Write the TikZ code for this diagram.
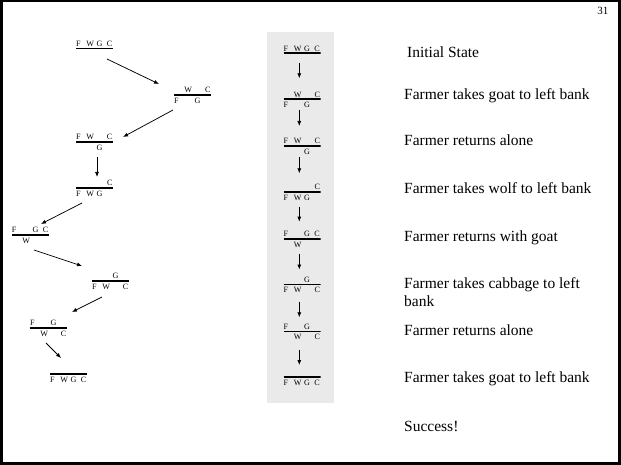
\documentclass[tikz,border=0pt]{standalone}
\usepackage{fontspec}
\setmainfont{Liberation Serif}
\usetikzlibrary{arrows.meta,calc}

\definecolor{panelgray}{RGB}{234,234,234}

% four fixed slots on a river bank: Farmer, Wolf, Goat, Cabbage
\newcommand\fwgc[4]{\makebox[10.4pt][l]{#1}\makebox[10.2pt][l]{#2}\makebox[10.4pt][l]{#3}#4}

% a state: name, centre x, line y, items above the line, items below it
\newcommand\bankstate[5]{%
  \node[bank] (#1) at (#2,#3) {};
  \node[lbl] (#1t) at ($(#1.west)+(0,-2.2)$) {#4};
  \node[lbl] (#1b) at ($(#1.west)+(0,8.4)$) {#5};
}

\tikzset{
  bank/.style={minimum width=37pt, minimum height=20pt, inner sep=0pt,
    path picture={\draw[line width=1.8pt]
      (path picture bounding box.west) -- (path picture bounding box.east);}},
  lbl/.style={anchor=base west, inner sep=0pt, font=\fontsize{8.1}{8.5}\selectfont},
  arr/.style={-{Latex[length=5pt,width=4pt]}, line width=0.75pt},
  caption/.style={anchor=base west, inner sep=0pt, font=\fontsize{15.5}{18.4}\selectfont},
}

\begin{document}
\begin{tikzpicture}[x=1pt,y=-1pt]
\useasboundingbox (0,0) rectangle (621,465);

% slide frame and page number
\draw[line width=3pt] (1.5,1) rectangle (619,463);
\node[anchor=base east, inner sep=0pt, font=\fontsize{11}{12}\selectfont] (pagenum) at (608.5,15) {31};

% shaded panel behind the straight sequence
\fill[panelgray] (267,32) rectangle (334,403);

% ---- search tree on the left ----
\bankstate{s1}{94.5}{48.5}{\fwgc{F}{W}{G}{C}}{}
\bankstate{s2}{192.5}{94.7}{\fwgc{}{W}{}{C}}{\fwgc{F}{}{G}{}}
\bankstate{s3}{94.5}{141.7}{\fwgc{F}{W}{}{C}}{\fwgc{}{}{G}{}}
\bankstate{s4}{94.5}{187.7}{\fwgc{}{}{}{C}}{\fwgc{F}{W}{G}{}}
\bankstate{s5}{30.5}{234.7}{\fwgc{F}{}{G}{C}}{\fwgc{}{W}{}{}}
\bankstate{s6}{110.5}{280.7}{\fwgc{}{}{G}{}}{\fwgc{F}{W}{}{C}}
\bankstate{s7}{48.5}{327.7}{\fwgc{F}{}{G}{}}{\fwgc{}{W}{}{C}}
\bankstate{s8}{68.5}{373.7}{}{\fwgc{F}{W}{G}{C}}

\draw[arr] ($(s1)+(12.5,10.5)$) -- ($(s2)+(-33.5,-10.7)$);
\draw[arr] ($(s2)+(-19.5,15.3)$) -- ($(s3)+(28.5,-4.7)$);
\draw[arr] ($(s3)+(2.5,15.3)$) -- ($(s4)+(2.5,-10.7)$);
\draw[arr] ($(s4)+(-12.5,15.3)$) -- ($(s5)+(10.5,-10.7)$);
\draw[arr] ($(s5)+(3.5,15.3)$) -- ($(s6)+(-28.5,-14.7)$);
\draw[arr] ($(s6)+(-8.5,16.3)$) -- ($(s7)+(23.5,-15.7)$);
\draw[arr] ($(s7)+(-2.5,15.3)$) -- ($(s8)+(-7.5,-15.7)$);

% ---- straight sequence in the panel ----
\bankstate{m1}{302}{53.3}{\fwgc{F}{W}{G}{C}}{}
\bankstate{m2}{302}{99.3}{\fwgc{}{W}{}{C}}{\fwgc{F}{}{G}{}}
\bankstate{m3}{302}{146}{\fwgc{F}{W}{}{C}}{\fwgc{}{}{G}{}}
\bankstate{m4}{302}{191.7}{\fwgc{}{}{}{C}}{\fwgc{F}{W}{G}{}}
\bankstate{m5}{302}{239}{\fwgc{F}{}{G}{C}}{\fwgc{}{W}{}{}}
\bankstate{m6}{302}{284.5}{\fwgc{}{}{G}{}}{\fwgc{F}{W}{}{C}}
\bankstate{m7}{302}{331.5}{\fwgc{F}{}{G}{}}{\fwgc{}{W}{}{C}}
\bankstate{m8}{302}{377.3}{}{\fwgc{F}{W}{G}{C}}

\draw[arr] ($(m1)+(-2.7,9.4)$)  -- ($(m2)+(-2.7,-21)$);
\draw[arr] ($(m2)+(-2.7,10.7)$) -- ($(m3)+(-2.7,-20)$);
\draw[arr] ($(m3)+(-2.7,11.5)$) -- ($(m4)+(-2.7,-18.4)$);
\draw[arr] ($(m4)+(-2.7,15)$)   -- ($(m5)+(-2.7,-17.3)$);
\draw[arr] ($(m5)+(-2.7,15)$)   -- ($(m6)+(-2.7,-15)$);
\draw[arr] ($(m6)+(-2.7,17.2)$) -- ($(m7)+(-2.7,-14.2)$);
\draw[arr] ($(m7)+(-2.7,18.5)$) -- ($(m8)+(-2.7,-12.3)$);

% ---- descriptions ----
\node[caption] (c0) at (407,57.3) {Initial State};
\node[caption] (c1) at (404,100) {Farmer takes goat to left bank};
\node[caption] (c2) at (404,146) {Farmer returns alone};
\node[caption] (c3) at (404,194) {Farmer takes wolf to left bank};
\node[caption] (c4) at (404,241.7) {Farmer returns with goat};
\node[caption] (c5) at (404,288.3) {\parbox[t]{200pt}{Farmer takes cabbage to left\\bank}};
\node[caption] (c6) at (404,335) {Farmer returns alone};
\node[caption] (c7) at (404,382) {Farmer takes goat to left bank};
\node[caption] (c8) at (404,431.5) {Success!};
\end{tikzpicture}
\end{document}
